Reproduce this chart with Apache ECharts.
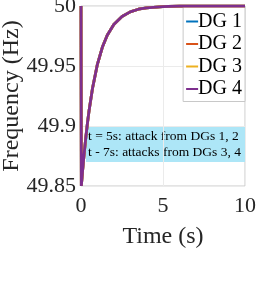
<!DOCTYPE html>
<html><head><meta charset="utf-8">
<script src="https://cdn.jsdelivr.net/npm/echarts@6/dist/echarts.min.js"></script>
<style>html,body{margin:0;padding:0;background:#fff}#c{width:269px;height:292px}</style>
</head><body><div id="c"></div>
<script>
const seriesNames = ['DG 1', 'DG 2', 'DG 3', 'DG 4'];
const colors = ['#0072BD', '#D95319', '#EDB120', '#7E2F8E'];
const time = [0, 0.02, 0.1, 0.2, 0.3, 0.4, 0.5, 0.7, 1.0, 1.3, 1.6, 2.0, 2.5, 3.0, 3.5, 4.0, 5, 6, 7, 8, 9, 10];
const freqDG1 = [50, 49.85, 49.8632, 49.878, 49.8913, 49.9031, 49.9136, 49.9313, 49.9514, 49.9656, 49.9756, 49.9846, 49.9913, 49.9951, 49.9973, 49.9985, 49.9995, 50, 50, 50, 50, 50];
const freqDG2 = [50, 49.85, 49.8632, 49.878, 49.8913, 49.9031, 49.9136, 49.9313, 49.9514, 49.9656, 49.9756, 49.9846, 49.9913, 49.9951, 49.9973, 49.9985, 49.9995, 50, 50, 50, 50, 50];
const freqDG3 = [50, 49.85, 49.8632, 49.878, 49.8913, 49.9031, 49.9136, 49.9313, 49.9514, 49.9656, 49.9756, 49.9846, 49.9913, 49.9951, 49.9973, 49.9985, 49.9995, 50, 50, 50, 50, 50];
const freqDG4 = [50, 49.85, 49.8632, 49.878, 49.8913, 49.9031, 49.9136, 49.9313, 49.9514, 49.9656, 49.9756, 49.9846, 49.9913, 49.9951, 49.9973, 49.9985, 49.9995, 50, 50, 50, 50, 50];
const xTicks = [0, 5, 10];
const yTicks = [49.85, 49.9, 49.95, 50];
const annotation = ['t = 5s: attack from DGs 1, 2', 't - 7s: attacks from DGs 3, 4'];

const allFreq = [freqDG1, freqDG2, freqDG3, freqDG4];
const font = 'Liberation Serif';
const txt = '#262626';
const chart = echarts.init(document.getElementById('c'));
chart.setOption({
  animation: false,
  grid: { left: 81, top: 6, width: 164, height: 180, show: true, borderColor: '#c8c8c8', borderWidth: 1, containLabel: false, outerBoundsMode: 'none' },
  xAxis: {
    type: 'value', min: 0, max: 10, interval: 5,
    name: 'Time (s)', nameLocation: 'middle', nameGap: 39, nameMoveOverlap: false,
    nameTextStyle: { fontFamily: font, fontSize: 24, color: txt },
    axisLine: { show: false }, axisTick: { show: false },
    axisLabel: { fontFamily: font, fontSize: 22, color: txt, margin: 9 },
    splitLine: { show: true, lineStyle: { color: '#ebebeb', width: 1 } }
  },
  yAxis: {
    type: 'value', min: 49.85, max: 50, interval: 0.05,
    name: 'Frequency (Hz)', nameLocation: 'middle', nameGap: 57, nameMoveOverlap: false,
    nameTextStyle: { fontFamily: font, fontSize: 24, color: txt },
    axisLine: { show: false }, axisTick: { show: false },
    axisLabel: { fontFamily: font, fontSize: 22, color: txt, margin: 5,
      formatter: v => { const r = Math.round(v * 100) / 100; return String(r); } },
    splitLine: { show: true, lineStyle: { color: '#ebebeb', width: 1 } }
  },
  legend: {
    right: 24, top: 6, orient: 'vertical',
    data: seriesNames.map(n => ({ name: n, icon: 'rect' })),
    itemWidth: 12, itemHeight: 2, itemGap: 1.5,
    backgroundColor: '#fff', borderColor: '#c8c8c8', borderWidth: 1,
    padding: [5, 3, 2, 3],
    textStyle: { fontFamily: font, fontSize: 20, lineHeight: 21, color: '#000', padding: [0, 0, 0, -5] }
  },
  series: seriesNames.map((n, i) => ({
    name: n, type: 'line', showSymbol: false, smooth: false,
    data: time.map((t, k) => [t, allFreq[i][k]]),
    lineStyle: { color: colors[i], width: 2.8 }, itemStyle: { color: colors[i] },
    z: 2 + i
  })),
  graphic: [{
    type: 'group', left: 86, top: 127, z: 100,
    children: [
      { type: 'rect', shape: { x: 0, y: 0, width: 159, height: 35 }, style: { fill: '#ADE6F7' } },
      { type: 'text', x: 2, y: 2, style: { text: annotation[0], fontFamily: font, fontSize: 13.5, fill: '#000' } },
      { type: 'text', x: 2, y: 18, style: { text: annotation[1], fontFamily: font, fontSize: 13.5, fill: '#000' } }
    ]
  }]
});
</script></body></html>
